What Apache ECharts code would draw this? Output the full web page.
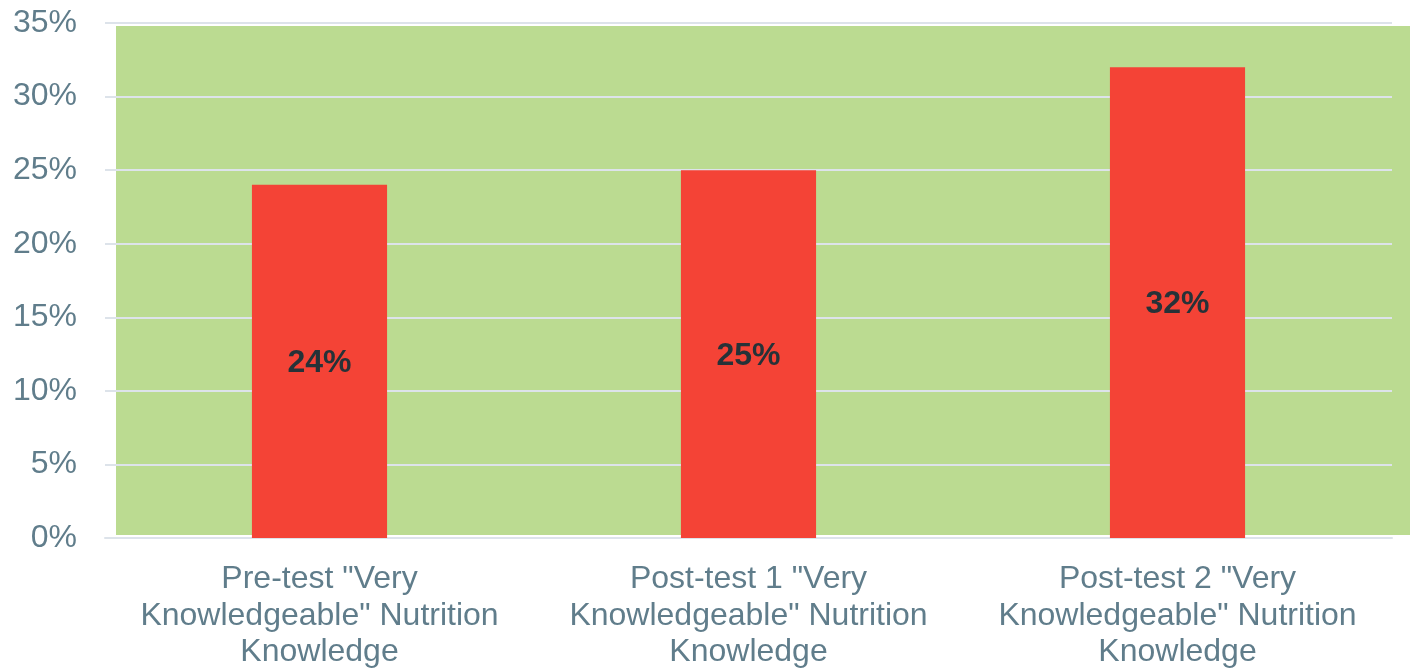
<!DOCTYPE html>
<html>
<head>
<meta charset="utf-8">
<style>
  html, body { margin: 0; padding: 0; background: #ffffff; }
  #chart { width: 1410px; height: 668px; }
</style>
<script src="https://cdn.jsdelivr.net/npm/echarts@6/dist/echarts.min.js"></script>
</head>
<body>
<div id="chart"></div>
<script>
// Share of respondents rating themselves "Very Knowledgeable" on nutrition
const categories = [
  'Pre-test "Very\nKnowledgeable" Nutrition\nKnowledge',
  'Post-test 1 "Very\nKnowledgeable" Nutrition\nKnowledge',
  'Post-test 2 "Very\nKnowledgeable" Nutrition\nKnowledge'
];
const values = [24, 25, 32];
const yMin = 0;
const yMax = 35;
const yStep = 5;

const chart = echarts.init(document.getElementById('chart'));

chart.setOption({
  animation: false,
  textStyle: { fontFamily: 'Liberation Sans, Arial, sans-serif' },
  // green panel behind the plot
  graphic: [{
    type: 'rect',
    z: -10,
    silent: true,
    shape: { x: 116, y: 26, width: 1294, height: 509 },
    style: { fill: '#bbdb91' }
  }],
  grid: {
    left: 105, right: 18, top: 23, bottom: 130,
    containLabel: false,
    outerBoundsMode: 'none'
  },
  xAxis: {
    type: 'category',
    data: categories,
    axisLine: { show: true, lineStyle: { color: '#dde3ea', width: 2 } },
    axisTick: { show: false },
    axisLabel: {
      color: '#607d8b',
      fontSize: 32,
      lineHeight: 36.5,
      margin: 23,
      interval: 0
    }
  },
  yAxis: {
    type: 'value',
    min: yMin,
    max: yMax,
    interval: yStep,
    axisLine: { show: false },
    axisTick: { show: false },
    splitLine: { lineStyle: { color: '#dde3ea', width: 2 } },
    axisLabel: {
      color: '#607d8b',
      fontSize: 32,
      margin: 28,
      formatter: v => v + '%'
    }
  },
  series: [{
    type: 'bar',
    data: values,
    barWidth: '31.5%',
    itemStyle: { color: '#f44336' },
    label: {
      show: true,
      position: 'inside',
      offset: [0, 2],
      color: '#263238',
      fontSize: 32,
      fontWeight: 'bold',
      formatter: p => p.value + '%'
    }
  }]
});
</script>
</body>
</html>
